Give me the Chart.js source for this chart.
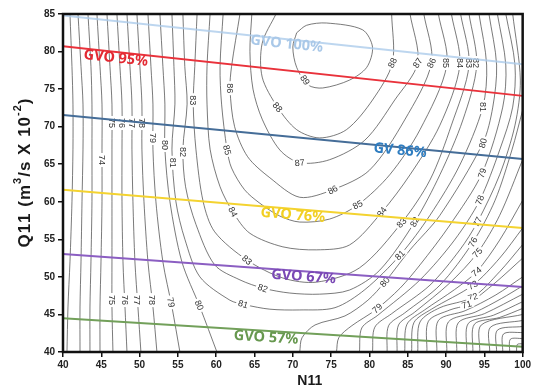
<!DOCTYPE html>
<html>
<head>
<meta charset="utf-8">
<script src="https://cdn.jsdelivr.net/npm/chart.js@4.4.0/dist/chart.umd.min.js"></script>
<style>
  html, body { margin: 0; padding: 0; background: #fff; }
  #wrap { width: 533px; height: 390px; }
</style>
</head>
<body>
<div id="wrap"><canvas id="hill" width="533" height="390"></canvas></div>
<script>
// Q11 rows at which the open left-hand contours were read
const leftRows = [85, 78, 73, 67, 60, 52, 46, 40];
// N11 of each left-hand contour at those rows
const left71 = [40.91, 41.17, 41.30, 41.30, 41.17, 40.91, 40.65, 40.52];
const left72 = [41.96, 42.35, 42.61, 42.61, 42.48, 42.35, 42.22, 42.22];
const left73 = [43.26, 43.65, 43.78, 43.78, 43.78, 43.65, 43.52, 43.52];
const left74 = [44.43, 44.83, 45.09, 45.09, 45.09, 44.96, 44.83, 44.83];
const left75 = [45.74, 46.13, 46.39, 46.39, 46.39, 46.39, 46.39, 46.52];
const left76 = [47.04, 47.43, 47.70, 47.70, 47.70, 47.83, 48.09, 48.35];
const left77 = [48.35, 48.74, 49.00, 49.00, 49.13, 49.39, 49.78, 50.17];
const left78 = [49.65, 50.04, 50.30, 50.30, 50.57, 51.09, 51.74, 52.26];
const left79 = [51.09, 51.48, 51.74, 51.74, 52.13, 53.04, 54.22, 55.26];
const left80 = [52.65, 53.04, 53.30, 53.30, 53.96, 55.52, 57.87, 60.09];

// U shaped contours around the peak, [N11, Q11]
const iso81 = [[54.22,85],[54.48,78],[54.61,73],[54.22,67],[54.74,60],[55.91,55],[57.87,50],[61.78,46.9],[63.74,46.3],[67.0,45.7],[70.9,45.6],[75.5,45.9],[79.4,48.3],[84.0,52.9],[87.9,58.2],[91.8,64.9],[94.8,72.6],[95.3,78.2],[94.3,85]];
const iso82 = [[55.65,85],[55.9,78],[56.2,73],[55.65,67],[56.0,62],[57.35,57],[59.8,51.6],[63.1,49.6],[66.1,48.5],[69.6,47.85],[73.5,47.7],[77.4,48.25],[81.35,50.9],[85.9,57.3],[89.2,63.6],[92.2,70.9],[94.0,78.2],[93.0,85]];
const iso83 = [[57.5,85],[57.2,78],[57.0,73],[57.35,67],[58.3,60],[59.8,56],[64.0,52.25],[68.7,49.85],[73.1,49.3],[78.7,51.2],[84.2,57.2],[87.9,62.9],[90.7,70.2],[93.0,78.2],[91.9,85]];
const iso84 = [[59.2,85],[58.8,78],[58.8,73],[59.2,67],[60.5,62],[62.2,58.6],[64.4,55.8],[68.7,54.0],[73.1,53.6],[77.4,54.25],[81.6,58.6],[85.3,63.6],[89.2,70.2],[91.8,78.2],[90.7,85]];
const iso85 = [[60.9,85],[60.5,78],[60.7,73],[61.4,67],[62.0,64.5],[63.7,61.6],[65.7,59.8],[68.3,58.1],[70.9,57.3],[74.8,57.7],[78.5,59.6],[82.65,63.6],[86.6,69.6],[90.1,78.2],[89.0,85]];
const iso86 = [[63.1,85],[62.0,78],[61.8,75],[62.4,70],[64.1,66],[67.0,63.2],[70.9,60.6],[75.2,61.6],[80.0,64.2],[84.6,70.9],[88.1,78.5],[87.1,85]];
const iso87 = [[64.65,85],[64.4,80],[64.8,75],[66.0,71],[68.3,66.9],[70.9,65.2],[74.8,65.6],[79.4,68.2],[83.3,73.55],[86.3,78.5],[85.3,85]];
const iso88 = [[67.8,85],[66.0,81.1],[66.0,76.6],[68.0,72.6],[70.5,69.6],[73.5,68.5],[77.0,69.6],[80.4,73.55],[83.0,78.5],[82.9,85]];
const iso89 = [[70.5,82.5],[71.8,83.5],[74.4,83.8],[79.1,82.9],[80.4,80.6],[79.65,77.9],[77.4,76.2],[73.9,75.15],[72.0,75.55],[70.5,77.9],[70.0,80.6],[70.5,82.5]];

// right-hand contours falling away towards high N11
const right80 = [[70.9,40],[71.2,41.9],[72.9,43.6],[76.8,44.8],[79.8,46.9],[82.0,49.3],[85.3,53.6],[89.2,58.2],[94.8,67.8],[96.1,72.6],[96.6,78.2],[95.6,85]];
const right79 = [[75.7,40],[76.0,41.9],[77.7,43.5],[80.8,45.6],[84.0,48.5],[86.6,51.6],[90.5,56.9],[94.7,63.8],[97.4,72.6],[97.8,78.2],[96.7,85]];
const right78 = [[78.7,40],[79.0,43.2],[81.1,44.9],[86.6,49.6],[91.1,54.9],[94.4,60.2],[97.0,66.9],[98.7,72.6],[99.0,78.2],[97.8,85]];
const right77 = [[80.4,40],[80.7,43.3],[82.9,45.1],[87.9,48.9],[91.8,53.6],[94.1,57.3],[97.0,63.6],[99.0,70.2],[99.7,76.2],[98.7,85]];
const right76 = [[82.3,40],[82.5,43.5],[84.6,45.2],[89.2,48.9],[93.5,54.6],[96.4,60.2],[98.6,66.9],[100,72.2]];
const right75 = [[83.6,40],[83.8,43.6],[85.9,45.3],[90.5,49.2],[94.1,53.2],[97.0,58.2],[100,65.6]];
const right74 = [[84.6,40],[84.9,43.7],[87.2,45.6],[91.1,48.3],[94.0,50.7],[97.0,54.9],[100,60.2]];
const right73 = [[85.5,40],[85.8,43.9],[88.1,45.7],[93.5,48.9],[97.0,52.5],[100,56.5]];
const right72 = [[86.3,40],[86.6,44.0],[89.2,45.9],[93.5,47.3],[97.0,50.7],[100,54.3]];
const right71 = [[87.5,40],[87.7,44.1],[90.5,45.6],[92.7,46.3],[96.4,49.2],[100,52.5]];
const right70 = [[88.8,40],[89.0,44.2],[92.5,45.5],[96.5,47.6],[100,50.0]];
const right69 = [[90.1,40],[90.3,44.0],[93.8,45.3],[97.2,47.1],[100,48.8]];
const right68 = [[91.4,40],[91.6,43.9],[95.0,45.1],[100,47.7]];
const right67 = [[92.7,40],[92.9,43.8],[96.2,44.9],[100,46.7]];
const right66 = [[93.5,40],[93.7,43.7],[97.0,44.6],[100,45.8]];
const right65 = [[94.4,40],[94.6,43.6],[100,45.0]];
const right64 = [[95.7,40],[95.8,43.3],[100,44.2]];
const right63 = [[96.6,40],[96.7,42.9],[100,43.4]];
const right62 = [[97.4,40],[97.5,42.4],[100,42.6]];
const right61 = [[98.3,40],[98.4,41.7],[100,41.8]];
const right60 = [[99.2,40],[99.3,41.0],[100,41.1]];

// efficiency labels: [level, N11, Q11] (snapped onto the matching line)
const contourTags = [
  [74,45.09,65.56],[75,46.52,70.49],[76,47.43,70.49],[77,48.48,70.49],[78,49.65,70.49],
  [79,50.30,68.49],[80,52.39,67.56],[81,53.96,65.16],[82,55.65,66.63],[83,56.30,73.55],
  [86,61.39,75.15],[85,61.39,66.89],[88,68.04,72.62],[89,71.57,76.21],[87,70.91,65.16],
  [86,75.22,61.57],[84,62.17,58.64],[83,64.0,52.25],[82,66.09,48.52],[81,63.48,46.26],
  [75,46.39,46.92],[76,48.09,46.92],[77,49.78,46.92],[78,51.74,46.92],[79,54.35,46.66],[80,57.87,46.26],
  [88,83.96,78.48],[87,86.30,78.48],[86,88.13,78.48],[85,90.09,78.48],[84,91.78,78.48],
  [83,92.96,78.48],[82,94.0,78.48],[81,94.78,72.62],[80,94.78,67.82],[79,94.65,63.83],
  [78,94.39,60.24],[77,94.13,57.31],[76,93.48,54.64],[75,94.13,53.18],[74,94.0,50.65],
  [73,93.48,48.92],[72,93.48,47.32],[71,92.70,46.26],
  [85,78.48,59.57],[84,81.61,58.64],[83,84.22,57.17],[82,85.91,57.31],[81,83.96,52.91],
  [80,82.0,49.32],[79,80.30,46.66]
];

// guide vane opening lines
const gvoNames = ['GVO 100%', 'GVO 95%', 'GV 86%', 'GVO 76%', 'GVO 67%', 'GVO 57%'];
const gvoStartQ = [84.8, 80.7, 71.55, 61.6, 53.05, 44.5];   // at N11 = 40
const gvoEndQ = [78.3, 74.1, 65.7, 56.5, 48.65, 40.7];      // at N11 = 100
const gvoTextAt = [[69.2, 81.0], [46.9, 79.1], [84.0, 66.8], [70.0, 58.2], [71.4, 50.0], [66.5, 41.9]];

const xTicksFrom = 40, xTicksTo = 100, yTicksFrom = 40, yTicksTo = 85, tickStep = 5;

const gvoLineColors = ['rgba(172,204,235,0.8)', '#e9323b', '#456d98', '#f4d330', '#8b5ec2', '#72a05a'];
const gvoTextColors = ['#a9c8e8', '#e32a33', '#2f7dc0', '#f2cf22', '#7a48b5', '#67984f'];

const toPts = arr => arr.map(p => ({ x: p[0], y: p[1] }));
const leftPts = ns => ns.map((n, i) => ({ x: n, y: leftRows[i] }));

const contours = [
  [71, leftPts(left71)], [72, leftPts(left72)], [73, leftPts(left73)], [74, leftPts(left74)],
  [75, leftPts(left75)], [76, leftPts(left76)], [77, leftPts(left77)], [78, leftPts(left78)],
  [79, leftPts(left79)], [80, leftPts(left80)],
  [81, toPts(iso81)], [82, toPts(iso82)], [83, toPts(iso83)], [84, toPts(iso84)],
  [85, toPts(iso85)], [86, toPts(iso86)], [87, toPts(iso87)], [88, toPts(iso88)], [89, toPts(iso89)],
  [80, toPts(right80)], [79, toPts(right79)], [78, toPts(right78)], [77, toPts(right77)],
  [76, toPts(right76)], [75, toPts(right75)], [74, toPts(right74)], [73, toPts(right73)],
  [72, toPts(right72)], [71, toPts(right71)], [70, toPts(right70)], [69, toPts(right69)],
  [68, toPts(right68)], [67, toPts(right67)], [66, toPts(right66)], [65, toPts(right65)],
  [64, toPts(right64)], [63, toPts(right63)], [62, toPts(right62)], [61, toPts(right61)],
  [60, toPts(right60)]
];

const datasets = [];
gvoNames.forEach((name, i) => {
  datasets.push({
    label: name,
    data: [{ x: xTicksFrom, y: gvoStartQ[i] }, { x: xTicksTo, y: gvoEndQ[i] }],
    showLine: true,
    borderColor: gvoLineColors[i],
    borderWidth: 2,
    pointRadius: 0
  });
});
contours.forEach(([level, pts]) => {
  datasets.push({
    label: String(level),
    level: level,
    data: pts,
    showLine: true,
    borderColor: 'rgba(70,70,70,0.72)',
    borderWidth: 1,
    pointRadius: 0,
    tension: 0.3
  });
});

function nearestOn(chart, level, px, py) {
  let best = null;
  chart.data.datasets.forEach((ds, i) => {
    if (ds.level !== level) return;
    const pts = chart.getDatasetMeta(i).data;
    for (let k = 0; k < pts.length - 1; k++) {
      const a = pts[k], b = pts[k + 1];
      const dx = b.x - a.x, dy = b.y - a.y;
      const len2 = dx * dx + dy * dy || 1;
      let t = ((px - a.x) * dx + (py - a.y) * dy) / len2;
      t = Math.max(0, Math.min(1, t));
      const cx = a.x + t * dx, cy = a.y + t * dy;
      const d = (cx - px) ** 2 + (cy - py) ** 2;
      if (!best || d < best.d) best = { d, x: cx, y: cy, ang: Math.atan2(dy, dx) };
    }
  });
  return best;
}

function drawContourTags(chart) {
  const ctx = chart.ctx, xs = chart.scales.x, ys = chart.scales.y;
  ctx.save();
  ctx.font = '9px "Liberation Sans", Arial, sans-serif';
  ctx.textAlign = 'center';
  ctx.textBaseline = 'middle';
  contourTags.forEach(([level, n, q]) => {
    const hit = nearestOn(chart, level, xs.getPixelForValue(n), ys.getPixelForValue(q));
    if (!hit) return;
    let a = hit.ang;
    if (a > Math.PI / 2) a -= Math.PI;
    if (a < -Math.PI / 2) a += Math.PI;
    if (Math.abs(a) > 1.4) a = Math.PI / 2;
    const txt = String(level);
    const w = ctx.measureText(txt).width;
    ctx.save();
    ctx.translate(hit.x, hit.y);
    ctx.rotate(a);
    ctx.fillStyle = '#fff';
    ctx.fillRect(-w / 2 - 2, -4, w + 4, 8);
    ctx.fillStyle = '#333';
    ctx.fillText(txt, 0, 0.5);
    ctx.restore();
  });
  ctx.restore();
}

function drawGvoText(chart) {
  const ctx = chart.ctx, xs = chart.scales.x, ys = chart.scales.y;
  ctx.save();
  ctx.font = 'bold 14.5px "Noto Sans", "Open Sans", sans-serif';
  ctx.textAlign = 'center';
  ctx.textBaseline = 'middle';
  gvoNames.forEach((name, i) => {
    const x0 = xs.getPixelForValue(xTicksFrom), y0 = ys.getPixelForValue(gvoStartQ[i]);
    const x1 = xs.getPixelForValue(xTicksTo), y1 = ys.getPixelForValue(gvoEndQ[i]);
    const ang = Math.atan2(y1 - y0, x1 - x0);
    ctx.save();
    ctx.translate(xs.getPixelForValue(gvoTextAt[i][0]), ys.getPixelForValue(gvoTextAt[i][1]));
    ctx.rotate(ang);
    ctx.fillStyle = gvoTextColors[i];
    ctx.fillText(name, 0, 0);
    ctx.restore();
  });
  ctx.restore();
}

function drawFrameAndTitles(chart) {
  const ctx = chart.ctx, ca = chart.chartArea;
  ctx.save();
  ctx.strokeStyle = '#111';
  ctx.lineWidth = 2.5;
  ctx.strokeRect(ca.left, ca.top, ca.right - ca.left, ca.bottom - ca.top);

  ctx.fillStyle = '#1a1a1a';
  ctx.textBaseline = 'middle';
  ctx.textAlign = 'center';
  ctx.font = 'bold 14px "Liberation Sans", Arial, sans-serif';
  ctx.fillText('N11', (ca.left + ca.right) / 2 + 17, ca.bottom + 29);

  // rotated y title with superscripts
  const parts = [['Q11 (m', 17, 0], ['3', 11, -7], ['/s X 10', 17, 0], ['-2', 11, -7], [')', 17, 0]];
  const gap = 1;
  let total = 0;
  parts.forEach(p => {
    ctx.font = 'bold ' + p[1] + 'px "Liberation Sans", Arial, sans-serif';
    total += ctx.measureText(p[0]).width + gap * p[0].length;
  });
  ctx.translate(25, 173);
  ctx.rotate(-Math.PI / 2);
  ctx.textAlign = 'left';
  let cx = -total / 2;
  parts.forEach(p => {
    ctx.font = 'bold ' + p[1] + 'px "Liberation Sans", Arial, sans-serif';
    for (const ch of p[0]) {
      ctx.fillText(ch, cx, p[2]);
      cx += ctx.measureText(ch).width + gap;
    }
  });
  ctx.restore();
}

const hillDecor = {
  id: 'hillDecor',
  beforeDraw(chart) {
    const ctx = chart.ctx;
    ctx.save();
    ctx.fillStyle = '#fff';
    ctx.fillRect(0, 0, chart.width, chart.height);
    ctx.restore();
  },
  afterDatasetDraw(chart, args) {
    // datasets are painted last-to-first, so this index is the final contour
    if (args.index === gvoNames.length) drawContourTags(chart);
  },
  afterDatasetsDraw(chart) {
    drawGvoText(chart);
    drawFrameAndTitles(chart);
  }
};

const tickFont = { family: '"Liberation Sans", Arial, sans-serif', size: 10, weight: 'bold' };

new Chart(document.getElementById('hill'), {
  type: 'scatter',
  data: { datasets },
  options: {
    responsive: false,
    devicePixelRatio: 1,
    animation: false,
    events: [],
    layout: { padding: { top: 14, right: 10, left: 0, bottom: 0 } },
    plugins: { legend: { display: false }, tooltip: { enabled: false } },
    scales: {
      x: {
        type: 'linear',
        min: xTicksFrom,
        max: xTicksTo,
        afterFit: s => { s.height = 38; },
        border: { display: false },
        grid: { drawOnChartArea: false, drawTicks: true, tickLength: 5, tickColor: '#111', lineWidth: 1.5 },
        ticks: { stepSize: tickStep, color: '#222', font: tickFont, padding: 2, maxRotation: 0 }
      },
      y: {
        type: 'linear',
        min: yTicksFrom,
        max: yTicksTo,
        afterFit: s => { s.width = 63; },
        border: { display: false },
        grid: { drawOnChartArea: false, drawTicks: true, tickLength: 5, tickColor: '#111', lineWidth: 1.5 },
        ticks: { stepSize: tickStep, color: '#222', font: tickFont, padding: 3 }
      }
    }
  },
  plugins: [hillDecor]
});
</script>
</body>
</html>
